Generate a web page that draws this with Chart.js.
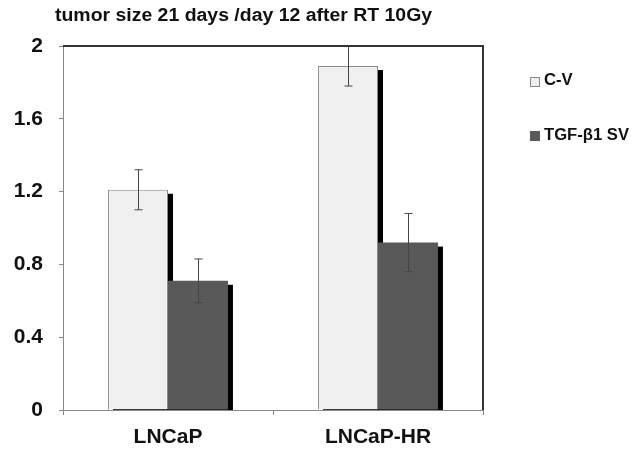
<!DOCTYPE html>
<html>
<head>
<meta charset="utf-8">
<script src="https://cdn.jsdelivr.net/npm/chart.js@4"></script>
<style>
  body { margin: 0; background: #fff; font-family: "Liberation Sans", Arial, sans-serif; }
  #wrap { position: relative; width: 637px; height: 454px; }
  #title { position: absolute; left: 55px; top: 5px; font-weight: bold; font-size: 18px; color: #111; white-space: nowrap; transform: scaleX(1.08); transform-origin: left top; }
  .legbox { position: absolute; left: 530px; width: 8px; height: 8px; }
  .legtxt { position: absolute; left: 544px; font-weight: bold; font-size: 16px; color: #111; white-space: nowrap; transform: scaleX(1.04); transform-origin: left top; }
</style>
</head>
<body>
<div id="wrap">
  <canvas id="myChart" width="637" height="454"></canvas>
  <div id="title">tumor size 21 days /day 12 after RT 10Gy</div>
  <div class="legbox" style="top:77px;background:#f0f0f0;border:1px solid #888"></div>
  <div class="legtxt" style="top:71px">C-V</div>
  <div class="legbox" style="top:131px;background:#595959;border:1px solid #595959"></div>
  <div class="legtxt" style="top:126px">TGF-β1 SV</div>
</div>
<script>
// data
let categories = ["LNCaP", "LNCaP-HR"];
let cvValues = [1.21, 1.89];
let cvErrors = [0.11, 0.11];
let tgfValues = [0.71, 0.92];
let tgfErrors = [0.12, 0.16];
let yTicks = [0, 0.4, 0.8, 1.2, 1.6, 2];

// black shadow to the right of every bar
let shadowPlugin = {
  id: "shadow",
  beforeDatasetsDraw(chart) {
    let ctx = chart.ctx;
    let area = chart.chartArea;
    ctx.save();
    ctx.beginPath();
    ctx.rect(area.left, area.top, area.right - area.left, area.bottom - area.top);
    ctx.clip();
    ctx.fillStyle = "#000";
    chart.data.datasets.forEach((ds, i) => {
      chart.getDatasetMeta(i).data.forEach((bar) => {
        let w = bar.width;
        ctx.fillRect(bar.x - w / 2 + 5, bar.y + 4, w, bar.base - bar.y);
      });
    });
    ctx.restore();
  },
};

// error bars + top/right frame
let errorPlugin = {
  id: "errors",
  afterDatasetsDraw(chart) {
    let ctx = chart.ctx;
    let y = chart.scales.y;
    let errs = [cvErrors, tgfErrors];
    ctx.save();
    ctx.strokeStyle = "#444";
    ctx.lineWidth = 1;
    chart.data.datasets.forEach((ds, i) => {
      chart.getDatasetMeta(i).data.forEach((bar, j) => {
        let v = ds.data[j];
        let hi = y.getPixelForValue(v + errs[i][j]);
        let lo = y.getPixelForValue(v - errs[i][j]);
        let x = Math.round(bar.x) + 0.5;
        ctx.beginPath();
        ctx.moveTo(x, hi);
        ctx.lineTo(x, lo);
        ctx.moveTo(x - 4, hi);
        ctx.lineTo(x + 4, hi);
        ctx.moveTo(x - 4, lo);
        ctx.lineTo(x + 4, lo);
        ctx.stroke();
      });
    });
    let a = chart.chartArea;
    ctx.strokeStyle = "#333";
    ctx.lineWidth = 2;
    ctx.beginPath();
    ctx.moveTo(a.left, a.top);
    ctx.lineTo(a.right, a.top);
    ctx.lineTo(a.right, a.bottom);
    ctx.stroke();
    ctx.restore();
  },
};

let barChart = new Chart(document.getElementById("myChart"), {
  type: "bar",
  data: {
    labels: categories,
    datasets: [
      {
        label: "C-V",
        data: cvValues,
        backgroundColor: "#f0f0f0",
        borderColor: "#8a8a8a",
        borderWidth: 1,
        barPercentage: 1,
        categoryPercentage: 0.571,
      },
      {
        label: "TGF-β1 SV",
        data: tgfValues,
        backgroundColor: "#595959",
        borderColor: "#595959",
        borderWidth: 0,
        barPercentage: 1,
        categoryPercentage: 0.571,
      },
    ],
  },
  options: {
    responsive: false,
    animation: false,
    layout: { padding: { left: 0, right: 154, top: 46, bottom: 0 } },
    plugins: {
      legend: { display: false },
      title: { display: false },
      tooltip: { enabled: false },
    },
    scales: {
      x: {
        offset: true,
        grid: { offset: true, drawOnChartArea: false, tickLength: 5, tickColor: "#888" },
        border: { color: "#888", width: 1 },
        ticks: { color: "#111", padding: 10, font: { family: "Liberation Sans", size: 21, weight: "bold" } },
        afterFit(scale) { scale.height = 44; },
      },
      y: {
        min: 0,
        max: 2,
        afterBuildTicks(scale) { scale.ticks = yTicks.map((v) => ({ value: v })); },
        grid: { drawOnChartArea: false, tickLength: 4, tickColor: "#888" },
        border: { color: "#888", width: 1 },
        ticks: {
          color: "#111",
          padding: 16,
          font: { family: "Liberation Sans", size: 21, weight: "bold" },
          callback: (v) => String(v),
        },
        afterFit(scale) { scale.width = 63; },
      },
    },
  },
  plugins: [shadowPlugin, errorPlugin],
});
</script>
</body>
</html>
